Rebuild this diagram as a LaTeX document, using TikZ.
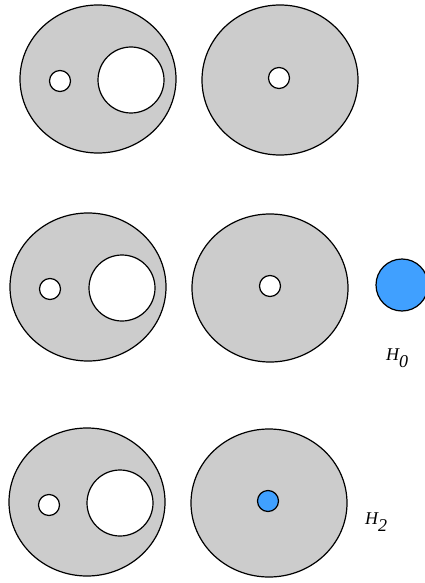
\documentclass[tikz,border=0pt]{standalone}
\usepackage{fontspec}
\setmainfont{Liberation Serif}
\begin{document}
\begin{tikzpicture}[x=1pt,y=-1pt,
  disk/.style={draw=black,fill=diskgray,line width=1.2pt},
  hole/.style={draw=black,fill=white,line width=1.2pt},
  bluedisk/.style={draw=black,fill=diskblue,line width=1.2pt},
  lbl/.style={inner sep=0pt,font=\fontsize{18}{18}\selectfont\itshape}]
\definecolor{diskgray}{HTML}{CCCCCC}
\definecolor{diskblue}{HTML}{40A0FF}
\useasboundingbox (0,0) rectangle (425,583);
% Row 1
\draw[disk] (98,79) ellipse [x radius=78, y radius=74];
\draw[hole] (60,81) circle [radius=10.5];
\draw[hole] (131,80) circle [radius=33];
\draw[disk] (280,80) ellipse [x radius=78, y radius=75];
\draw[hole] (279,78) circle [radius=10.5];
% Row 2
\draw[disk] (88,287) ellipse [x radius=78, y radius=74];
\draw[hole] (50,289) circle [radius=10.5];
\draw[hole] (122,288) circle [radius=33];
\draw[disk] (270,288) ellipse [x radius=78, y radius=74];
\draw[hole] (270,286) circle [radius=10.5];
\draw[bluedisk] (402,285) circle [radius=26];
\node[lbl,anchor=base west] (h0) at (386,360) {H\raisebox{-7pt}{0}};
% Row 3
\draw[disk] (87,502) ellipse [x radius=78, y radius=74];
\draw[hole] (49,505) circle [radius=10.5];
\draw[hole] (120,503) circle [radius=33];
\draw[disk] (269,503) ellipse [x radius=78, y radius=74];
\draw[bluedisk] (268,501) circle [radius=10.5];
\node[lbl,anchor=base west] (h2) at (365,524) {H\raisebox{-7pt}{2}};
\end{tikzpicture}
\end{document}
